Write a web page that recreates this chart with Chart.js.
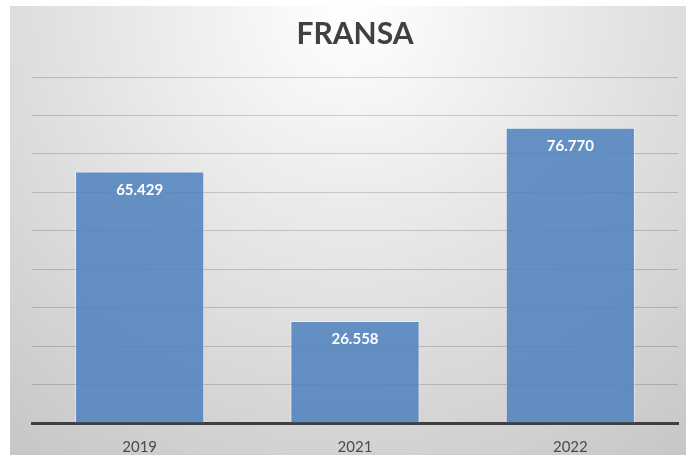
<!DOCTYPE html>
<html>
<head>
<meta charset="utf-8">
<script src="https://cdn.jsdelivr.net/npm/chart.js@4/dist/chart.umd.min.js"></script>
<style>
html,body{margin:0;padding:0;background:#fff;}
#wrap{width:686px;height:455px;}
</style>
</head>
<body>
<div id="wrap"><canvas id="c" width="686" height="455"></canvas></div>
<script>
const categories = ["2019", "2021", "2022"];
const values = [65429, 26558, 76770];
const valueLabels = ["65.429", "26.558", "76.770"];
const chartTitle = "FRANSA";

const bgPlugin = {
  id: 'bg',
  beforeDraw(chart) {
    const ctx = chart.ctx;
    ctx.save();
    ctx.fillStyle = '#ffffff';
    ctx.fillRect(0, 0, chart.width, chart.height);
    const g = ctx.createRadialGradient(350, 10, 0, 350, 10, 600);
    g.addColorStop(0, '#ffffff');
    g.addColorStop(1, '#c2c2c2');
    ctx.fillStyle = g;
    ctx.fillRect(10, 6, chart.width - 10, chart.height - 6);
    ctx.restore();
  }
};

const labelPlugin = {
  id: 'vlabels',
  afterDatasetsDraw(chart) {
    const ctx = chart.ctx;
    const meta = chart.getDatasetMeta(0);
    ctx.save();
    ctx.fillStyle = '#ffffff';
    ctx.font = 'bold 15px Lato';
    ctx.textAlign = 'center';
    ctx.textBaseline = 'middle';
    meta.data.forEach((bar, i) => {
      ctx.fillText(valueLabels[i], bar.x, bar.y + 18.5);
    });
    ctx.restore();
  }
};

new Chart(document.getElementById('c'), {
  type: 'bar',
  data: {
    labels: categories,
    datasets: [{
      data: values,
      backgroundColor: 'rgba(79,129,189,0.86)',
      borderColor: 'rgba(255,255,255,0.45)',
      borderWidth: 1,
      barPercentage: 0.6,
      categoryPercentage: 1.0
    }]
  },
  options: {
    responsive: false,
    animation: false,
    layout: { padding: { left: 32, right: 8, top: 0, bottom: 0 } },
    plugins: {
      legend: { display: false },
      tooltip: { enabled: false },
      title: {
        display: true,
        text: chartTitle,
        color: '#404040',
        font: { family: 'Lato', size: 30, weight: 'bold' },
        padding: { top: 16, bottom: 25 }
      }
    },
    scales: {
      x: {
        grid: { display: false, drawTicks: false },
        border: { display: true, color: '#404040', width: 3 },
        ticks: { color: '#4a4a4a', font: { family: 'Lato', size: 15 }, padding: 15 },
        afterFit(scale) { scale.height = 32; }
      },
      y: {
        min: 0, max: 90000,
        ticks: { display: false, stepSize: 10000 },
        grid: { color: 'rgba(0,0,0,0.17)', lineWidth: 1, drawTicks: false },
        border: { display: false }
      }
    }
  },
  plugins: [bgPlugin, labelPlugin]
});
</script>
</body>
</html>
